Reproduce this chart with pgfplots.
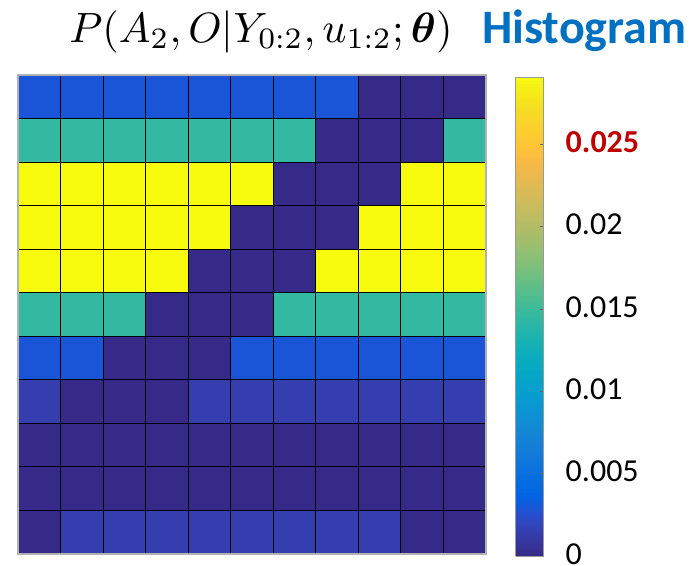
\documentclass[border=0pt]{standalone}
\usepackage{amsmath}
\usepackage{graphicx}
\usepackage{pgfplots}
\pgfplotsset{compat=1.18}
\usepackage{fontspec}
\setmainfont{Carlito}
\definecolor{histblue}{RGB}{0,112,192}
\definecolor{tickred}{RGB}{192,0,0}
\pgfplotsset{colormap={parula}{
rgb=(0.2081,0.1663,0.5292) rgb=(0.2116,0.1898,0.5777) rgb=(0.2123,0.2138,0.6270) rgb=(0.2081,0.2386,0.6771)
rgb=(0.1959,0.2645,0.7279) rgb=(0.1707,0.2919,0.7792) rgb=(0.1253,0.3242,0.8303) rgb=(0.0591,0.3598,0.8683)
rgb=(0.0117,0.3875,0.8820) rgb=(0.0060,0.4086,0.8828) rgb=(0.0165,0.4266,0.8786) rgb=(0.0329,0.4430,0.8720)
rgb=(0.0498,0.4586,0.8641) rgb=(0.0629,0.4737,0.8554) rgb=(0.0723,0.4887,0.8467) rgb=(0.0779,0.5040,0.8384)
rgb=(0.0793,0.5200,0.8312) rgb=(0.0749,0.5375,0.8263) rgb=(0.0641,0.5570,0.8240) rgb=(0.0488,0.5772,0.8228)
rgb=(0.0343,0.5966,0.8199) rgb=(0.0265,0.6137,0.8135) rgb=(0.0239,0.6287,0.8038) rgb=(0.0231,0.6418,0.7913)
rgb=(0.0228,0.6535,0.7768) rgb=(0.0267,0.6642,0.7607) rgb=(0.0384,0.6743,0.7436) rgb=(0.0590,0.6838,0.7254)
rgb=(0.0843,0.6928,0.7062) rgb=(0.1133,0.7015,0.6859) rgb=(0.1453,0.7098,0.6646) rgb=(0.1801,0.7177,0.6424)
rgb=(0.2178,0.7250,0.6193) rgb=(0.2586,0.7317,0.5954) rgb=(0.3022,0.7376,0.5712) rgb=(0.3482,0.7424,0.5473)
rgb=(0.3953,0.7459,0.5244) rgb=(0.4420,0.7481,0.5033) rgb=(0.4871,0.7491,0.4840) rgb=(0.5300,0.7491,0.4661)
rgb=(0.5709,0.7485,0.4494) rgb=(0.6099,0.7473,0.4337) rgb=(0.6473,0.7456,0.4188) rgb=(0.6834,0.7435,0.4044)
rgb=(0.7184,0.7411,0.3905) rgb=(0.7525,0.7384,0.3768) rgb=(0.7858,0.7356,0.3633) rgb=(0.8185,0.7327,0.3498)
rgb=(0.8507,0.7299,0.3360) rgb=(0.8824,0.7274,0.3217) rgb=(0.9139,0.7258,0.3063) rgb=(0.9450,0.7261,0.2886)
rgb=(0.9739,0.7314,0.2666) rgb=(0.9938,0.7455,0.2403) rgb=(0.9990,0.7653,0.2164) rgb=(0.9955,0.7861,0.1967)
rgb=(0.9880,0.8066,0.1794) rgb=(0.9789,0.8271,0.1633) rgb=(0.9697,0.8481,0.1475) rgb=(0.9626,0.8705,0.1309)
rgb=(0.9589,0.8949,0.1132) rgb=(0.9598,0.9218,0.0948) rgb=(0.9661,0.9514,0.0755) rgb=(0.9763,0.9831,0.0538)
}}
\begin{document}
\begin{tikzpicture}
\path[use as bounding box] (0,0) rectangle (695pt,-565pt);
\begin{axis}[
  at={(18pt,-554pt)}, anchor=south west,
  scale only axis, width=468pt, height=479pt,
  xmin=-0.5, xmax=10.5, ymin=-0.5, ymax=10.5,
  y dir=reverse, enlargelimits=false,
  xtick={0.5,1.5,...,9.5}, ytick={0.5,1.5,...,9.5},
  xticklabels={}, yticklabels={},
  major tick length=0pt,
  grid=major, major grid style={black, line width=0.9pt},
  axis on top,
  axis line style={draw=black!30, line width=1.2pt},
  colormap name=parula,
  point meta min=0, point meta max=0.02907,
  colorbar sampled,
  colorbar style={
    samples=150,
    at={(parent axis.south east)}, anchor=south west, xshift=21pt, yshift=-2pt,
    scale only axis, width=28pt, height=479pt,
    axis line style={draw=black!40, line width=0.8pt},
    scaled y ticks=false,
    ytick={0,0.005,0.01,0.015,0.02,0.025},
    yticklabels={0,0.005,0.01,0.015,0.02,{\textbf{\color{tickred}0.025}}},
    ytick pos=right, yticklabel pos=right,
    tick align=inside, major tick length=4pt,
    tick style={draw=black!60, line width=0.6pt},
    yticklabel style={font=\fontsize{32}{32}\selectfont, anchor=west, inner sep=0pt, xshift=22pt, yshift=2pt},
  },
]
\addplot[matrix plot*, mesh/cols=11, point meta=explicit] table[meta=c, row sep=\\] {
x y c\\
0 0 0.00291\\ 1 0 0.00291\\ 2 0 0.00291\\ 3 0 0.00291\\ 4 0 0.00291\\ 5 0 0.00291\\ 6 0 0.00291\\ 7 0 0.00291\\ 8 0 0\\ 9 0 0\\ 10 0 0\\
0 1 0.01453\\ 1 1 0.01453\\ 2 1 0.01453\\ 3 1 0.01453\\ 4 1 0.01453\\ 5 1 0.01453\\ 6 1 0.01453\\ 7 1 0\\ 8 1 0\\ 9 1 0\\ 10 1 0.01453\\
0 2 0.02907\\ 1 2 0.02907\\ 2 2 0.02907\\ 3 2 0.02907\\ 4 2 0.02907\\ 5 2 0.02907\\ 6 2 0\\ 7 2 0\\ 8 2 0\\ 9 2 0.02907\\ 10 2 0.02907\\
0 3 0.02907\\ 1 3 0.02907\\ 2 3 0.02907\\ 3 3 0.02907\\ 4 3 0.02907\\ 5 3 0\\ 6 3 0\\ 7 3 0\\ 8 3 0.02907\\ 9 3 0.02907\\ 10 3 0.02907\\
0 4 0.02907\\ 1 4 0.02907\\ 2 4 0.02907\\ 3 4 0.02907\\ 4 4 0\\ 5 4 0\\ 6 4 0\\ 7 4 0.02907\\ 8 4 0.02907\\ 9 4 0.02907\\ 10 4 0.02907\\
0 5 0.01453\\ 1 5 0.01453\\ 2 5 0.01453\\ 3 5 0\\ 4 5 0\\ 5 5 0\\ 6 5 0.01453\\ 7 5 0.01453\\ 8 5 0.01453\\ 9 5 0.01453\\ 10 5 0.01453\\
0 6 0.00291\\ 1 6 0.00291\\ 2 6 0\\ 3 6 0\\ 4 6 0\\ 5 6 0.00291\\ 6 6 0.00291\\ 7 6 0.00291\\ 8 6 0.00291\\ 9 6 0.00291\\ 10 6 0.00291\\
0 7 0.00145\\ 1 7 0\\ 2 7 0\\ 3 7 0\\ 4 7 0.00145\\ 5 7 0.00145\\ 6 7 0.00145\\ 7 7 0.00145\\ 8 7 0.00145\\ 9 7 0.00145\\ 10 7 0.00145\\
0 8 0\\ 1 8 0\\ 2 8 0\\ 3 8 0\\ 4 8 0\\ 5 8 0\\ 6 8 0\\ 7 8 0\\ 8 8 0\\ 9 8 0\\ 10 8 0\\
0 9 0\\ 1 9 0\\ 2 9 0\\ 3 9 0\\ 4 9 0\\ 5 9 0\\ 6 9 0\\ 7 9 0\\ 8 9 0\\ 9 9 0\\ 10 9 0\\
0 10 0\\ 1 10 0.00145\\ 2 10 0.00145\\ 3 10 0.00145\\ 4 10 0.00145\\ 5 10 0.00145\\ 6 10 0.00145\\ 7 10 0.00145\\ 8 10 0.00145\\ 9 10 0\\ 10 10 0\\
};
\end{axis}
\node[anchor=base, inner sep=0pt] at (261pt,-42pt)
  {\resizebox{383pt}{!}{$P(A_2,O|Y_{0:2},u_{1:2};\boldsymbol{\theta})$}};
\node[anchor=base west, font=\fontsize{48}{48}\selectfont\bfseries, text=histblue, inner sep=0pt] at (482pt,-43pt) {Histogram};
\end{tikzpicture}
\end{document}
